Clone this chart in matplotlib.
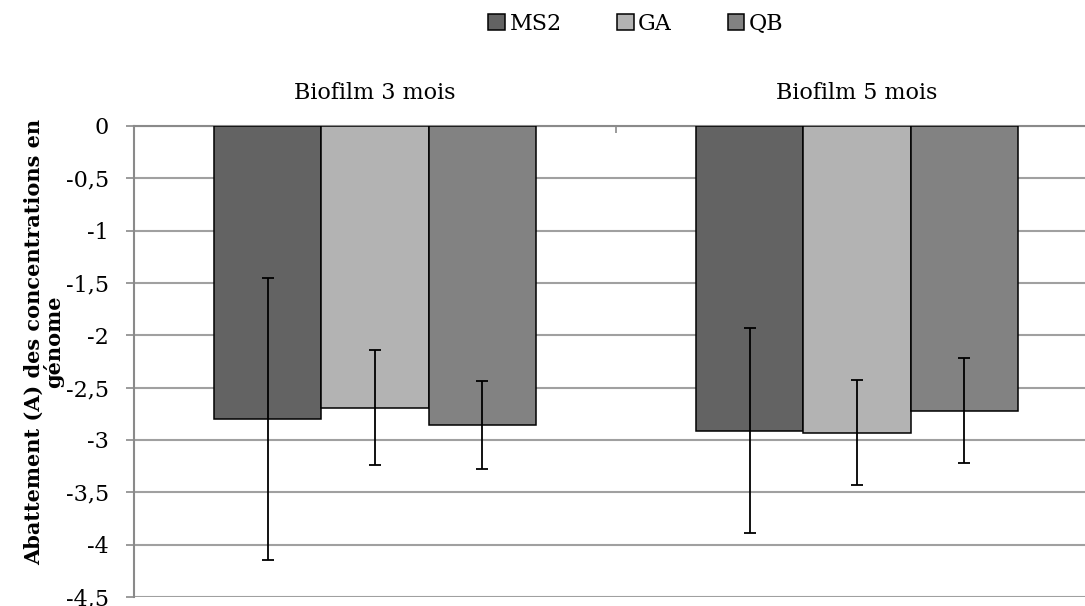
import numpy as np
import matplotlib.pyplot as plt

plt.rcParams["font.family"] = ["DejaVu Serif"]

categories = ["Biofilm 3 mois", "Biofilm 5 mois"]
series = ["MS2", "GA", "QB"]
values = {
    "MS2": [-2.80, -2.91],
    "GA": [-2.69, -2.93],
    "QB": [-2.86, -2.72],
}
errors = {
    "MS2": [1.35, 0.98],
    "GA": [0.55, 0.50],
    "QB": [0.42, 0.50],
}
colors = {"MS2": "#636363", "GA": "#b3b3b3", "QB": "#828282"}
yticks = [0, -0.5, -1, -1.5, -2, -2.5, -3, -3.5, -4, -4.5]
ytick_labels = ["0", "-0,5", "-1", "-1,5", "-2", "-2,5", "-3", "-3,5", "-4", "-4,5"]

fig = plt.figure(figsize=(10.85, 6.06), dpi=100)
# plot area runs a little past the right edge, as in the original
ax = fig.add_axes([134 / 1085, 1 - 597 / 606, 964 / 1085, (597 - 126) / 606])

x = np.arange(len(categories))
w = 0.223
for i, s in enumerate(series):
    ax.bar(x + (i - 1) * w, values[s], width=w, color=colors[s],
           edgecolor="black", linewidth=1.1, label=s, zorder=3)
    ax.errorbar(x + (i - 1) * w, values[s], yerr=errors[s], fmt="none",
                ecolor="black", elinewidth=1.3, capsize=4.3, capthick=1.3,
                zorder=4)

ax.set_xlim(-0.5, 1.5)
ax.set_ylim(-4.5, 0)
ax.set_yticks(yticks)
ax.set_yticklabels(ytick_labels, fontsize=16)
ax.yaxis.grid(True, color="#a0a0a0", linewidth=1.5, zorder=0)

ax.xaxis.set_ticks_position("top")
ax.set_xticks(x)
ax.set_xticklabels(categories, fontsize=16)
ax.tick_params(axis="x", which="major", length=0, pad=16)
ax.set_xticks([-0.5, 0.5, 1.5], minor=True)
ax.tick_params(axis="x", which="minor", direction="in", length=5,
               color="#8a8a8a", width=1.2)
ax.tick_params(axis="y", direction="out", length=6, color="#8a8a8a",
               width=1.2, pad=12)

for side in ["right", "bottom"]:
    ax.spines[side].set_visible(False)
for side in ["top", "left"]:
    ax.spines[side].set_color("#8a8a8a")
    ax.spines[side].set_linewidth(1.5)
    ax.spines[side].set_zorder(2)

ax.set_ylabel("Abattement (A) des concentrations en\ngénome", fontsize=15,
              fontweight="bold", linespacing=0.9)
ax.yaxis.set_label_coords(-0.073, 0.541)

handles, labels = ax.get_legend_handles_labels()
fig.legend(handles, labels, loc="center", bbox_to_anchor=(0.586, 1 - 24 / 606),
           ncol=3, frameon=False, fontsize=16, handlelength=0.75,
           handleheight=0.75, handletextpad=0.2, columnspacing=2.5)

fig.savefig("out.png", dpi=100)
